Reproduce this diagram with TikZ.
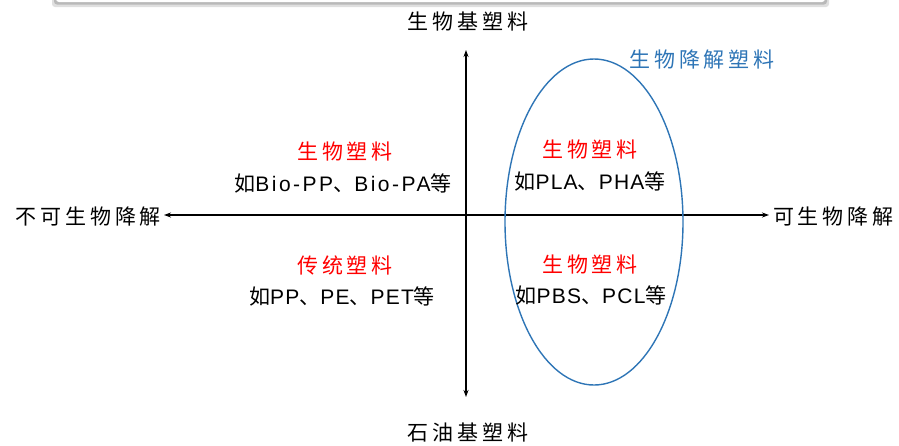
\documentclass[tikz,border=0pt]{standalone}
\usepackage{fontspec}
\setmainfont[LetterSpace=6]{Liberation Sans}
\newfontfamily\widelat[LetterSpace=12]{Liberation Sans}
\newfontfamily\cjk[LetterSpace=18]{Noto Sans CJK SC}
\newfontfamily\cjkn[LetterSpace=6]{Noto Sans CJK SC}
\newfontfamily\cjkw[LetterSpace=12]{Noto Sans CJK SC}
\usetikzlibrary{arrows.meta,shapes.geometric}
\definecolor{ellblue}{RGB}{46,117,182}
\tikzset{
  axis/.style={line width=1.1pt, {Stealth[length=7pt,width=5pt]}-{Stealth[length=7pt,width=5pt]}},
  axlabel/.style={font=\fontsize{21}{24}\selectfont\cjk, text=black, inner sep=0pt},
  redlabel/.style={font=\fontsize{21}{24}\selectfont\cjk, text=red, inner sep=0pt},
  examp/.style={font=\fontsize{21}{24}\selectfont, text=black, inner sep=0pt},
  bluelabel/.style={font=\fontsize{21}{24}\selectfont\cjk, text=ellblue, inner sep=0pt},
  region/.style={draw=ellblue, line width=1.4pt, ellipse, inner sep=0pt, minimum width=178pt, minimum height=326pt},
}
\begin{document}
\begin{tikzpicture}[x=1pt,y=-1pt]
\useasboundingbox (0,0) rectangle (899,445);
% top shadow band
\fill[gray!25, rounded corners=3pt] (52,-10) rectangle (829,7);
\fill[gray!55, rounded corners=3pt] (54,-10) rectangle (827,4.5);
\fill[white, rounded corners=3pt] (56,-10) rectangle (825,2);
% axes
\coordinate (ytop) at (466,50);
\coordinate (ybot) at (466,397);
\coordinate (xl) at (164,215);
\coordinate (xr) at (769,215);
\draw[axis] (ytop) -- (ybot);
\draw[axis] (xl) -- (xr);
% axis labels
\node[axlabel] (top) at (468,22) {生物基塑料};
\node[axlabel] (bot) at (468,433) {石油基塑料};
\node[axlabel, anchor=east] (left) at (161,217) {不可生物降解};
\node[axlabel, anchor=west] (right) at (773,217) {可生物降解};
% ellipse
\node[region] (ell) at (594,222) {};
\node[bluelabel] (bio) at (702,60) {生物降解塑料};
% quadrant texts
\node[redlabel] (q1t) at (345,152) {生物塑料};
\node[examp, font=\fontsize{21}{24}\selectfont\widelat] (q1b) at (343,183) {{\cjkw 如}Bio-PP{\cjkw 、}Bio-PA{\cjkw 等}};
\node[redlabel] (q3t) at (345,265) {传统塑料};
\node[examp] (q3b) at (342,296) {{\cjkn 如}PP{\cjkn 、}PE{\cjkn 、}PET{\cjkn 等}};
\node[redlabel] (q2t) at (590,150) {生物塑料};
\node[examp] (q2b) at (590,181) {{\cjkn 如}PLA{\cjkn 、}PHA{\cjkn 等}};
\node[redlabel] (q4t) at (590,265) {生物塑料};
\node[examp] (q4b) at (591,295) {{\cjkn 如}PBS{\cjkn 、}PCL{\cjkn 等}};
\end{tikzpicture}
\end{document}
